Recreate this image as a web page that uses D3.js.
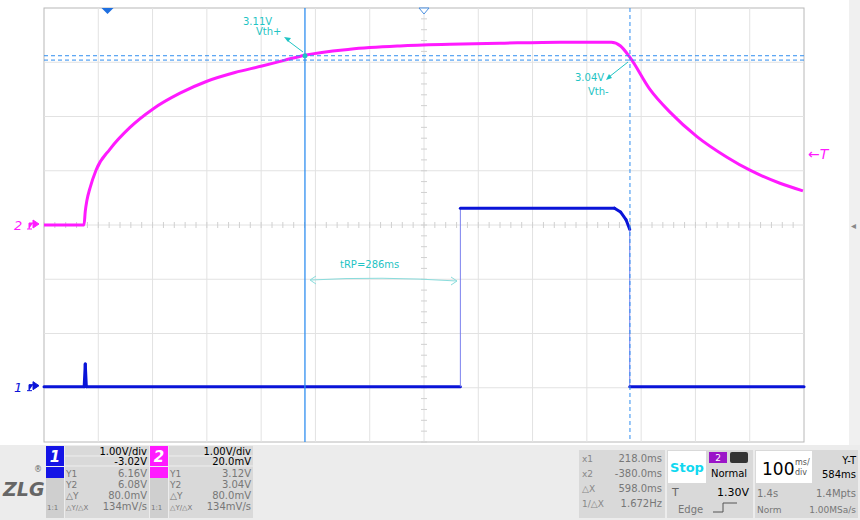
<!DOCTYPE html>
<html><head><meta charset="utf-8">
<script src="https://cdn.jsdelivr.net/npm/d3@7"></script>
<style>body{margin:0;background:#fff;font-family:"DejaVu Sans",sans-serif}</style>
</head><body><svg id="c" width="860" height="520"></svg>
<script>
// Time in ms from left edge of screen (100 ms/div, 14 div), voltage in V
const ch2Time = [0,73.7,76,79,84.7,95.8,121.6,158.4,200.8,250.5,300.2,351.8,401.5,443.9,480.7,563.6,655.7,747.8,839.9,950.4,1045,1062,1079.4,1116.2,1153.1,1202.8,1258.1,1300.4,1355.7,1398];
const ch2Volt = [0,0,0.25,0.45,0.68,1.01,1.40,1.80,2.14,2.43,2.65,2.81,2.93,3.04,3.13,3.24,3.30,3.33,3.35,3.37,3.37,3.30,3.09,2.50,2.08,1.63,1.25,1.01,0.77,0.63];
const ch1Time = [0,74,76,78,767,767,1051,1062,1072,1079,1079,1400];
const ch1Volt = [0,0,0.42,0,0,3.29,3.29,3.22,3.08,2.9,0,0];
const ch1Offset = -2.98, ch2Offset = 0;      // divisions
const cursorX = [480.7,1079.4];              // ms
const cursorY = [3.12,3.04];                 // V (ch2)
const tRP = "tRP=286ms";

const svg = d3.select("#c");
const L=44,R=804,T=8,B=442;
const x = d3.scaleLinear().domain([0,1400]).range([L,R]);
const y = d3.scaleLinear().domain([-4,4]).range([B,T]);
const grid = svg.append("g");
grid.append("rect").attr("x",L).attr("y",T).attr("width",R-L).attr("height",B-T).attr("fill","#fff").attr("stroke","#b8b8b8");
d3.range(1,14).forEach(i=>grid.append("line").attr("x1",x(i*100)).attr("x2",x(i*100)).attr("y1",T).attr("y2",B).attr("stroke","#e2e2e2"));
d3.range(-3,4).forEach(i=>grid.append("line").attr("x1",L).attr("x2",R).attr("y1",y(i)).attr("y2",y(i)).attr("stroke","#e2e2e2"));
d3.range(0,1400,20).forEach(t=>grid.append("line").attr("x1",x(t)).attr("x2",x(t)).attr("y1",y(0)-3).attr("y2",y(0)+3).attr("stroke","#d0d0d0"));
d3.range(-4,4,0.2).forEach(v=>grid.append("line").attr("x1",x(700)-3).attr("x2",x(700)+3).attr("y1",y(v)).attr("y2",y(v)).attr("stroke","#d0d0d0"));
svg.append("path").attr("d",`M${x(117)-6},${T}L${x(117)+6},${T}L${x(117)},${T+6}Z`).attr("fill","#1e6fe0");
svg.append("path").attr("d",`M${x(700)-5},${T}L${x(700)+5},${T}L${x(700)},${T+6}Z`).attr("fill","#fff").attr("stroke","#4a8fe0");

const cx2 = d3.range(ch2Time.length).map(i=>[x(ch2Time[i]),y(ch2Volt[i]+ch2Offset)]);
const cx1 = d3.range(ch1Time.length).map(i=>[x(ch1Time[i]),y(ch1Volt[i]+ch1Offset)]);
svg.append("path").attr("d",d3.line().curve(d3.curveMonotoneX)(cx2)).attr("fill","none").attr("stroke","#ff1aff").attr("stroke-width",3);
for(let i=1;i<cx1.length;i++){
  const vert = cx1[i][0]===cx1[i-1][0];
  svg.append("line").attr("x1",cx1[i-1][0]).attr("y1",cx1[i-1][1]).attr("x2",cx1[i][0]).attr("y2",cx1[i][1])
    .attr("stroke",vert?"#7a80ee":"#0a14d8").attr("stroke-width",vert?1:3).attr("stroke-linecap",vert?"butt":"round");
}

const cc="#2f8ef0";
svg.append("line").attr("x1",x(cursorX[0])).attr("x2",x(cursorX[0])).attr("y1",T).attr("y2",B).attr("stroke",cc).attr("stroke-width",1.3);
svg.append("line").attr("x1",x(cursorX[1])).attr("x2",x(cursorX[1])).attr("y1",T).attr("y2",B).attr("stroke",cc).attr("stroke-dasharray","4,3");
cursorY.forEach(v=>svg.append("line").attr("x1",L).attr("x2",R).attr("y1",y(v+ch2Offset)).attr("y2",y(v+ch2Offset)).attr("stroke",cc).attr("stroke-dasharray","4,3"));

const tc="#1fc4c4";
svg.append("text").attr("x",243).attr("y",25).attr("fill",tc).attr("font-size",10).text("3.11V");
svg.append("text").attr("x",256).attr("y",35).attr("fill",tc).attr("font-size",10).text("Vth+");
svg.append("line").attr("x1",287).attr("y1",40).attr("x2",303).attr("y2",52).attr("stroke",tc);
svg.append("path").attr("d","M284,37l7,1l-3,4z").attr("fill",tc);
svg.append("circle").attr("cx",x(cursorX[0])).attr("cy",y(3.12)).attr("r",2.5).attr("fill",tc);
svg.append("text").attr("x",575).attr("y",81).attr("fill",tc).attr("font-size",10).text("3.04V");
svg.append("text").attr("x",588).attr("y",95).attr("fill",tc).attr("font-size",10).text("Vth-");
svg.append("line").attr("x1",609).attr("y1",77).attr("x2",628).attr("y2",62).attr("stroke",tc);
svg.append("path").attr("d","M606,80l3,-6l3,4z").attr("fill",tc);
svg.append("text").attr("x",340).attr("y",268).attr("fill",tc).attr("font-size",10).text(tRP);
svg.append("path").attr("d","M311,280 Q380,276 457,281").attr("fill","none").attr("stroke","#8adcdc");
svg.append("path").attr("d","M316,276 L310,280 L316,284 M451,277 L457,281 L451,285").attr("fill","none").attr("stroke","#8adcdc");

svg.append("text").attr("x",14).attr("y",y(0)+5).attr("fill","#ff1aff").attr("font-size",13).attr("font-style","italic").text("2");
svg.append("path").attr("d",`M27,${y(0)+4}h5M29,${y(0)+4}v-6h4M33,${y(0)-5}l6,4l-6,4z`).attr("stroke","#ff1aff").attr("fill","#ff1aff");
svg.append("text").attr("x",14).attr("y",y(ch1Offset)+5).attr("fill","#0a14d8").attr("font-size",13).attr("font-style","italic").text("1");
svg.append("path").attr("d",`M27,${y(ch1Offset)+4}h5M29,${y(ch1Offset)+4}v-6h4M33,${y(ch1Offset)-5}l6,4l-6,4z`).attr("stroke","#0a14d8").attr("fill","#0a14d8");
svg.append("text").attr("x",808).attr("y",159).attr("fill","#ff1aff").attr("font-size",14).attr("font-style","italic").text("\u2190T");
svg.append("rect").attr("x",849).attr("y",0).attr("width",11).attr("height",445).attr("fill","#f0f0f0");
svg.append("text").attr("x",851).attr("y",229).attr("fill","#888").attr("font-size",10).text("\u25C2");

const P=svg.append("g");
P.append("rect").attr("x",0).attr("y",445).attr("width",860).attr("height",75).attr("fill","#ececec");
P.append("text").attr("x",3).attr("y",496).attr("font-size",19).attr("font-weight","bold").attr("font-style","italic").attr("fill","#666").text("ZLG");
P.append("text").attr("x",34).attr("y",472).attr("font-size",8).attr("fill","#666").text("®");
function chBox(x0,col,n,a,b,vals){
  P.append("rect").attr("x",x0).attr("y",446).attr("width",18).attr("height",20).attr("fill",col);
  P.append("text").attr("x",x0+9).attr("y",462).attr("text-anchor","middle").attr("fill","#fff").attr("font-size",15).attr("font-weight","bold").attr("font-style","italic").text(n);
  P.append("rect").attr("x",x0+19).attr("y",446).attr("width",84).attr("height",72).attr("fill","#d9d9d9");
  P.append("rect").attr("x",x0).attr("y",467).attr("width",18).attr("height",51).attr("fill","#cfcfcf");
  P.append("rect").attr("x",x0).attr("y",467).attr("width",18).attr("height",11).attr("fill",col);
  P.append("line").attr("x1",x0+19).attr("x2",x0+103).attr("y1",456).attr("y2",456).attr("stroke","#eee");
  P.append("line").attr("x1",x0+19).attr("x2",x0+103).attr("y1",466).attr("y2",466).attr("stroke","#eee");
  P.append("text").attr("x",x0+101).attr("y",455).attr("text-anchor","end").attr("font-size",10).text(a);
  P.append("text").attr("x",x0+101).attr("y",465).attr("text-anchor","end").attr("font-size",10).text(b);
  const labs=["Y1","Y2","\u25B3Y","\u25B3Y/\u25B3X"];
  labs.forEach((l,i)=>{
    P.append("text").attr("x",x0+20).attr("y",477+i*11).attr("font-size",i==3?7:9).attr("fill","#777").text(l);
    P.append("text").attr("x",x0+101).attr("y",477+i*11).attr("text-anchor","end").attr("font-size",10).attr("fill","#777").text(vals[i]);
  });
  P.append("text").attr("x",x0+1).attr("y",510).attr("font-size",7).attr("fill","#777").text("1:1");
}
chBox(46,"#1414e6","1","1.00V/div","-3.02V",["6.16V","6.08V","80.0mV","134mV/s"]);
chBox(150,"#ff1aff","2","1.00V/div","20.0mV",["3.12V","3.04V","80.0mV","134mV/s"]);
P.append("rect").attr("x",579).attr("y",450).attr("width",86).attr("height",68).attr("fill","#d9d9d9");
[["x1","218.0ms"],["x2","-380.0ms"],["\u25B3X","598.0ms"],["1/\u25B3X","1.672Hz"]].forEach((r,i)=>{
  P.append("text").attr("x",582).attr("y",462+i*15).attr("font-size",9).attr("fill","#888").text(r[0]);
  P.append("text").attr("x",662).attr("y",462+i*15).attr("text-anchor","end").attr("font-size",10).attr("fill","#777").text(r[1]);
});
P.append("rect").attr("x",667).attr("y",450).attr("width",86).attr("height",68).attr("fill","#d9d9d9");
P.append("rect").attr("x",668).attr("y",451).attr("width",38).attr("height",32).attr("fill","#fff");
P.append("text").attr("x",687).attr("y",472).attr("text-anchor","middle").attr("font-size",13).attr("font-weight","bold").attr("fill","#10d8f0").text("Stop");
P.append("rect").attr("x",709).attr("y",452).attr("width",18).attr("height",11).attr("fill","#9b15c8");
P.append("text").attr("x",718).attr("y",461).attr("text-anchor","middle").attr("font-size",9).attr("fill","#fff").text("2");
P.append("rect").attr("x",730).attr("y",452).attr("width",18).attr("height",11).attr("rx",2).attr("fill","#333");
P.append("text").attr("x",729).attr("y",477).attr("text-anchor","middle").attr("font-size",10).text("Normal");
P.append("text").attr("x",672).attr("y",496).attr("font-size",11).attr("fill","#666").text("T");
P.append("text").attr("x",749).attr("y",496).attr("text-anchor","end").attr("font-size",11).text("1.30V");
P.append("text").attr("x",678).attr("y",513).attr("font-size",10).attr("fill","#777").text("Edge");
P.append("path").attr("d","M713,512h10v-9h14").attr("fill","none").attr("stroke","#555");
P.append("rect").attr("x",755).attr("y",450).attr("width",103).attr("height",68).attr("fill","#d9d9d9");
P.append("rect").attr("x",756).attr("y",451).attr("width",56).attr("height",32).attr("fill","#fff");
P.append("text").attr("x",762).attr("y",475).attr("font-size",17).text("100");
P.append("text").attr("x",795).attr("y",465).attr("font-size",8).attr("fill","#555").text("ms/");
P.append("text").attr("x",795).attr("y",475).attr("font-size",8).attr("fill","#555").text("div");
P.append("text").attr("x",856).attr("y",464).attr("text-anchor","end").attr("font-size",10).text("Y-T");
P.append("text").attr("x",856).attr("y",478).attr("text-anchor","end").attr("font-size",10).text("584ms");
P.append("text").attr("x",757).attr("y",497).attr("font-size",10).attr("fill","#777").text("1.4s");
P.append("text").attr("x",856).attr("y",497).attr("text-anchor","end").attr("font-size",10).attr("fill","#777").text("1.4Mpts");
P.append("text").attr("x",757).attr("y",513).attr("font-size",9).attr("fill","#777").text("Norm");
P.append("text").attr("x",856).attr("y",513).attr("text-anchor","end").attr("font-size",9).attr("fill","#777").text("1.00MSa/s");
</script></body></html>
